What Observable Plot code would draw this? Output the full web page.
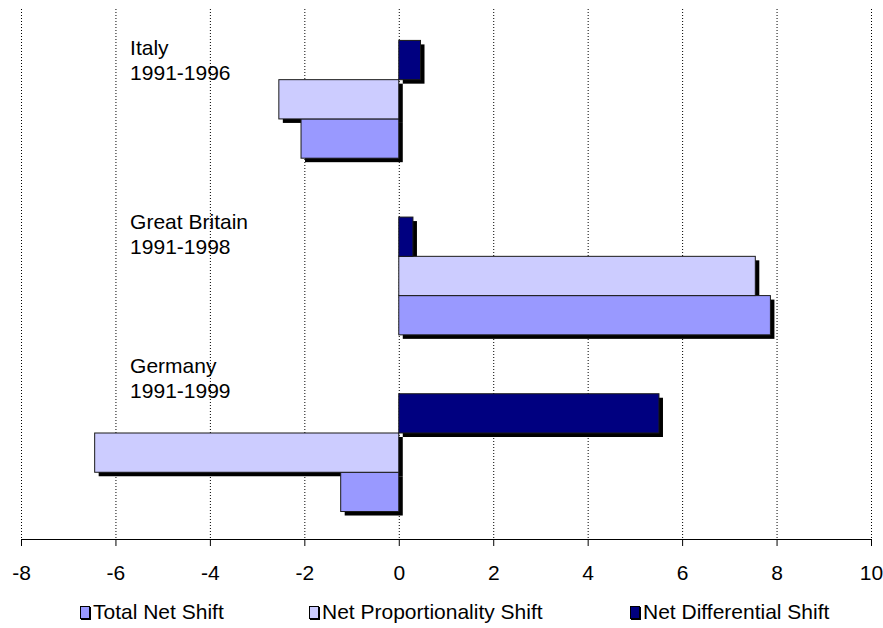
<!DOCTYPE html>
<html>
<head>
<meta charset="utf-8">
<script src="https://cdn.jsdelivr.net/npm/d3@7"></script>
<script src="https://cdn.jsdelivr.net/npm/@observablehq/plot@0.6"></script>
<style>
  body { margin: 0; background: #fff; font-family: "Liberation Sans", Arial, sans-serif; }
  #chart { width: 883px; }
  .legend { position: relative; width: 883px; height: 33px; font-size: 21px; color: #000; }
  .item { position: absolute; top: 0; height: 33px; display: flex; align-items: center; white-space: nowrap; }
  .sw { width: 10px; height: 13px; border: 1px solid #000; box-sizing: border-box; margin-right: 3px; margin-top: 1px; box-shadow: 1px 1px 0 #000; }
</style>
</head>
<body>
<div id="chart"></div>
<div class="legend" id="legend"></div>
<script>
// ---- data ----
const countries = ["Italy", "Great Britain", "Germany"];
const periods = ["1991-1996", "1991-1998", "1991-1999"];
const seriesNames = ["Total Net Shift", "Net Proportionality Shift", "Net Differential Shift"];
const totalNetShift = [-2.07, 7.87, -1.23];
const netProportionalityShift = [-2.54, 7.55, -6.44];
const netDifferentialShift = [0.46, 0.30, 5.51];
const xTicks = [-8, -6, -4, -2, 0, 2, 4, 6, 8, 10];
const seriesColors = ["#9999FF", "#CCCCFF", "#000080"];

// ---- layout helpers ----
const groupStep = 4.5;            // group spacing in bar-height units
const yDomain = [-0.8, 12.7];
const slotOf = {"Net Differential Shift": 0, "Net Proportionality Shift": 1, "Total Net Shift": 2};
const labelDrop = [1.0, 0.92, 0.09];

const seriesValues = [totalNetShift, netProportionalityShift, netDifferentialShift];
const rows = [];
countries.forEach((c, gi) => {
  seriesNames.forEach((s, si) => {
    rows.push({country: c, gi, series: s, value: seriesValues[si][gi]});
  });
});
const y1 = d => d.gi * groupStep + slotOf[d.series];
const y2 = d => d.gi * groupStep + slotOf[d.series] + 1;

const chart = Plot.plot({
  width: 883,
  height: 595,
  marginTop: 9,
  marginBottom: 56,
  marginLeft: 21,
  marginRight: 12,
  style: {fontFamily: "'Liberation Sans', Arial, sans-serif", fontSize: "21px", color: "#000", background: "#fff", overflow: "visible"},
  x: {domain: [-8, 10], ticks: xTicks, tickFormat: d => String(d), tickSize: 7, tickPadding: 19, label: null},
  y: {domain: yDomain, reverse: true, axis: null},
  color: {domain: seriesNames, range: seriesColors},
  marks: [
    Plot.ruleX(xTicks, {stroke: "#000", strokeWidth: 1, strokeDasharray: "1,2"}),
    Plot.rect(rows, {x1: () => 0, x2: "value", y1, y2, fill: "#000", dx: 4, dy: 4}),
    Plot.rect(rows, {x1: () => 0, x2: "value", y1, y2, fill: "series", stroke: "#1a1a1a", strokeWidth: 1}),
    Plot.ruleY([yDomain[1]], {stroke: "#000", strokeWidth: 1}),
    Plot.text(countries, {
      x: () => -5.7,
      y: (d, i) => i * groupStep + labelDrop[i],
      text: (d, i) => d + "\n" + periods[i],
      textAnchor: "start",
      lineAnchor: "bottom",
      lineHeight: 1.2,
      fontSize: 21,
      fill: "#000"
    })
  ]
});
document.getElementById("chart").appendChild(chart);

// ---- legend ----
const legendLeft = [80, 309, 630];
const legend = document.getElementById("legend");
seriesNames.forEach((s, i) => {
  const item = document.createElement("div");
  item.className = "item";
  item.style.left = legendLeft[i] + "px";
  const sw = document.createElement("span");
  sw.className = "sw";
  sw.style.background = seriesColors[i];
  const t = document.createElement("span");
  t.textContent = s;
  item.appendChild(sw);
  item.appendChild(t);
  legend.appendChild(item);
});
</script>
</body>
</html>
